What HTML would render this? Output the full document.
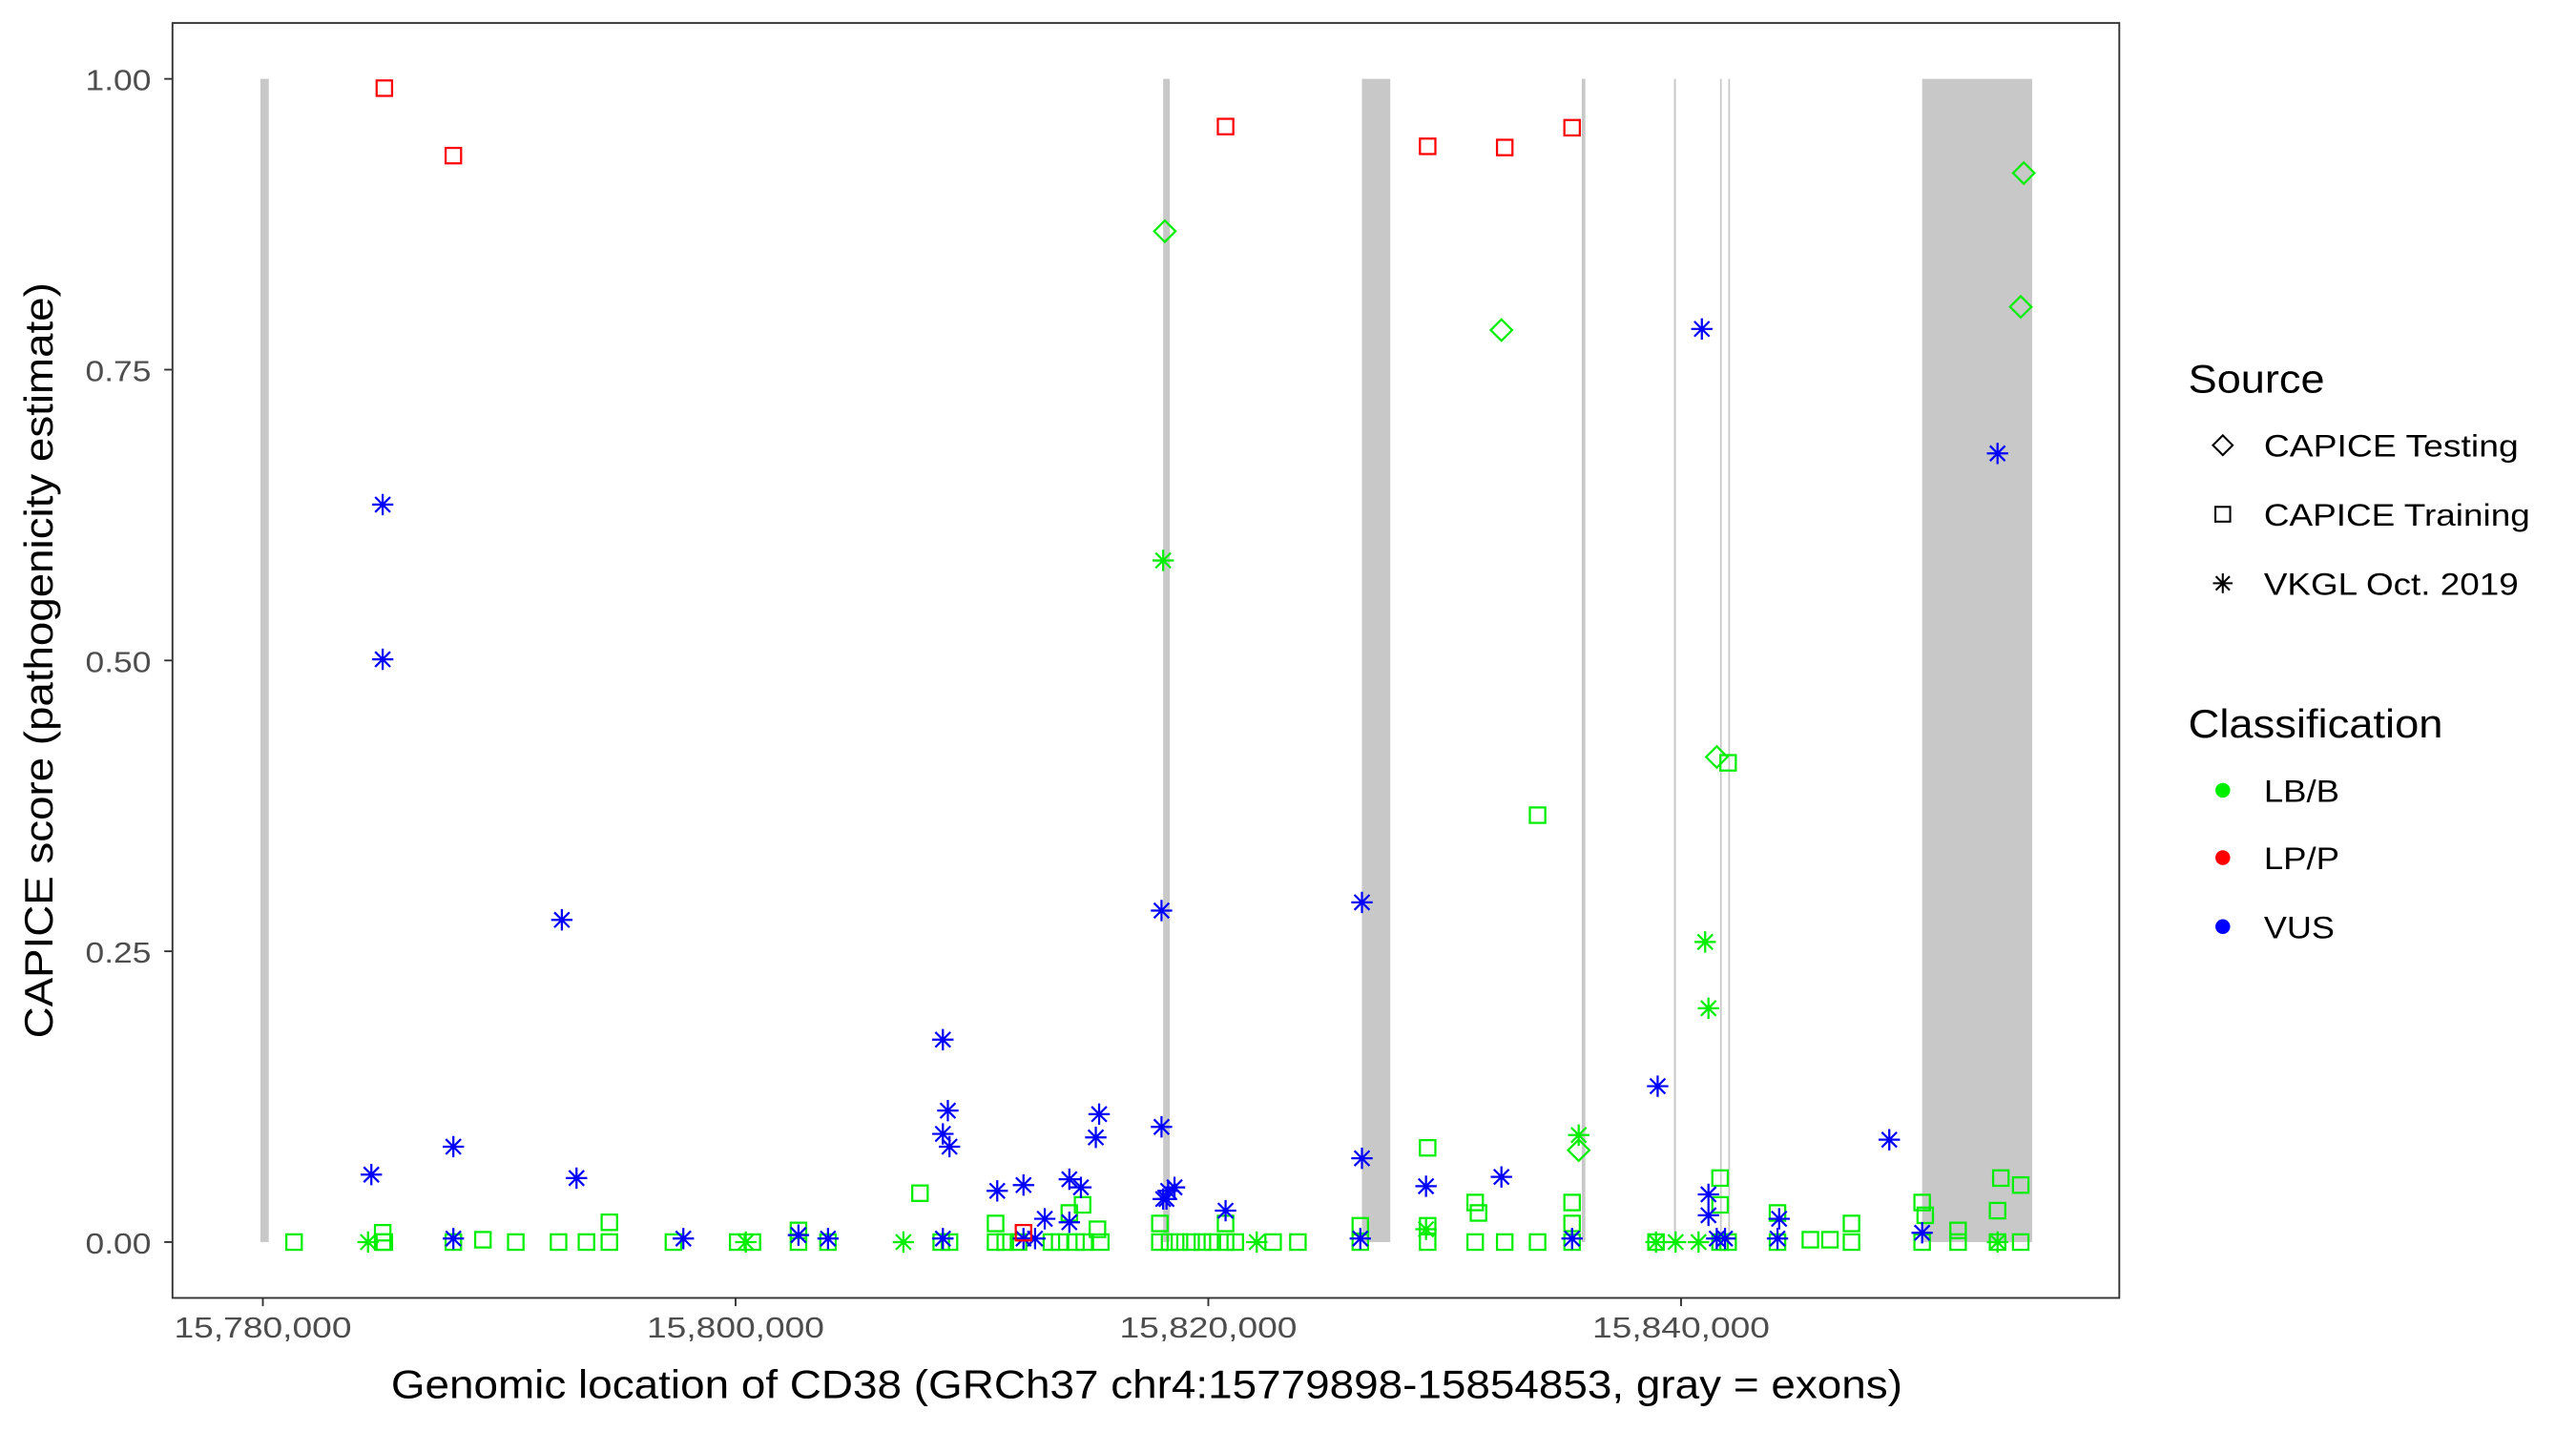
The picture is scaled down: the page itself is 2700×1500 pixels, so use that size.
<!DOCTYPE html>
<html><head><meta charset="utf-8"><style>
html,body{margin:0;padding:0;background:#fff}
svg{display:block}
text{font-family:"Liberation Sans",Arial,sans-serif}
</style></head><body>
<svg id="chart" xmlns="http://www.w3.org/2000/svg" width="2700" height="1500" viewBox="0 0 1568 871" preserveAspectRatio="none">
<rect x="0" y="0" width="1568" height="871" fill="#fff"/>
<g id="exons"></g>
<g id="points"></g>
<rect x="105" y="14" width="1185" height="776" fill="none" stroke="#333" stroke-width="1.1"/>
<g id="yaxis"></g>
<g id="xaxis"></g>
<text x="238" y="851" font-size="24" textLength="920" lengthAdjust="spacingAndGlyphs" fill="#000">Genomic location of CD38 (GRCh37 chr4:15779898-15854853, gray = exons)</text>
<text transform="translate(32,632) rotate(-90)" font-size="24" textLength="460" lengthAdjust="spacingAndGlyphs" fill="#000">CAPICE score (pathogenicity estimate)</text>
<g>
<text x="1332" y="239" font-size="24" textLength="83" lengthAdjust="spacingAndGlyphs">Source</text>
<g><path d="M1353,265 L1359,271 L1353,277 L1347,271 Z" fill="none" stroke="#000" stroke-width="1.2"/><text x="1378" y="278" font-size="19" textLength="155" lengthAdjust="spacingAndGlyphs">CAPICE Testing</text></g>
<g><rect x="1348.5" y="308.5" width="9" height="9" fill="none" stroke="#000" stroke-width="1.2"/><text x="1378" y="320" font-size="19" textLength="162" lengthAdjust="spacingAndGlyphs">CAPICE Training</text></g>
<g><path d="M1353,349 V361 M1347,355 H1359 M1348.8,350.8 L1357.2,359.2 M1357.2,350.8 L1348.8,359.2" stroke="#000" stroke-width="1.2"/><text x="1378" y="362" font-size="19" textLength="155" lengthAdjust="spacingAndGlyphs">VKGL Oct. 2019</text></g>
<text x="1332" y="449" font-size="24" textLength="155" lengthAdjust="spacingAndGlyphs">Classification</text>
<g><circle cx="1353" cy="481" r="4.5" fill="#00ee00"/><text x="1378" y="488" font-size="19" textLength="46" lengthAdjust="spacingAndGlyphs">LB/B</text></g>
<g><circle cx="1353" cy="522" r="4.5" fill="#ff0000"/><text x="1378" y="529" font-size="19" textLength="46" lengthAdjust="spacingAndGlyphs">LP/P</text></g>
<g><circle cx="1353" cy="564" r="4.5" fill="#0000ff"/><text x="1378" y="571" font-size="19" textLength="43" lengthAdjust="spacingAndGlyphs">VUS</text></g>
</g>
</svg>
<script>
const xTicks=[15780000,15800000,15820000,15840000];
const xTickLabels=["15,780,000","15,800,000","15,820,000","15,840,000"];
const yTicks=[0,0.25,0.5,0.75,1];
const yTickLabels=["0.00","0.25","0.50","0.75","1.00"];
const exonStarts=[15779898,15818090,15826500,15835800,15839700,15841650,15842000,15850200];
const exonEnds=[15780250,15818370,15827700,15835950,15839780,15841720,15842070,15854853];
// red LP/P training
const lppPos=[15785140,15788060,15820730,15829280,15832540,15835390,15812180];
const lppScore=[0.992,0.934,0.959,0.942,0.941,0.958,0.008];
// green testing diamonds
const testPos=[15818160,15832400,15854500,15854370,15841510,15835670];
const testScore=[0.869,0.784,0.919,0.804,0.417,0.079];
// VUS asterisks
const vusPos=[15785070,15785070,15792650,15784590,15788060,15793270,15808770,15808770,15808980,15809050,15818020,15826500,15840880,15853390,15839010,15848810,15818020,15818230,15815380,15815240,15814120,15814610,15811070,15812180,15813080,15820730,15826500,15829210,15832400,15841160,15841160,15844150,15850200,15797790,15802660,15803910,15788060,15808770,15812180,15812670,15814120,15818300,15818570,15818090,15826430,15835390,15841510,15841860,15844080];
const vusScore=[0.634,0.501,0.277,0.058,0.082,0.055,0.174,0.093,0.113,0.082,0.285,0.292,0.785,0.678,0.134,0.088,0.099,0.037,0.110,0.090,0.054,0.047,0.044,0.049,0.020,0.027,0.072,0.048,0.056,0.041,0.023,0.020,0.008,0.003,0.006,0.003,0.003,0.003,0.003,0.003,0.017,0.044,0.047,0.037,0.003,0.003,0.003,0.003,0.003];
// green VKGL asterisks
const vkglPos=[15818090,15841020,15841160,15835670,15784450,15800430,15807100,15822050,15829210,15838940,15839770,15840740,15853390];
const vkglScore=[0.586,0.258,0.201,0.092,0,0,0,0,0.011,0,0,0,0];
// green training squares
const trainPos=[15781320,15785070,15785140,15788060,15789310,15790700,15792510,15793690,15794660,15797370,15800090,15800710,15802660,15803910,15808700,15809050,15811000,15811410,15811970,15813360,15813710,15814400,15814750,15815450,15817950,15818360,15818780,15819270,15819750,15820170,15820730,15821140,15822740,15823790,15826430,15829280,15831290,15832540,15833930,15835390,15838940,15841650,15841990,15844080,15845470,15846300,15847210,15850200,15851720,15853390,15854370,
15785070,15794660,15807800,15811000,15814120,15814680,15815310,15817950,15820730,15826430,15829280,15831290,15831430,15833930,15835390,15835390,15841650,15841650,15841990,15844080,15847210,15850200,15850330,15851720,15853390,15853530,15854370,15829280,15802660];
const trainScore=[0,0,0,0,0.002,0,0,0,0,0,0,0,0,0,0,0,0,0,0,0,0,0,0,0,0,0,0,0,0,0,0,0,0,0,0,0,0,0,0,0,0,0,0,0,0.002,0.002,0,0,0,0,0,
0.008,0.017,0.042,0.016,0.025,0.032,0.011,0.016,0.016,0.014,0.081,0.034,0.025,0.367,0.034,0.016,0.055,0.032,0.412,0.025,0.016,0.034,0.023,0.010,0.027,0.055,0.049,0.014,0.010];

const NS="http://www.w3.org/2000/svg";
function xS(g){return 160+(g-15780000)*0.0143875;}
function yS(v){return 756-708*v;}
function mk(tag,attrs,parent){const e=document.createElementNS(NS,tag);for(const k in attrs)e.setAttribute(k,attrs[k]);parent.appendChild(e);return e;}
const GREEN="#00ee00",RED="#ff0000",BLUE="#0000ff";
const exG=document.getElementById('exons');
for(let i=0;i<exonStarts.length;i++){
  const r=mk('rect',{x:xS(exonStarts[i]),y:yS(1),width:Math.max(1,xS(exonEnds[i])-xS(exonStarts[i])),height:yS(0)-yS(1),fill:'#c8c8c8'},exG);
  
  
}
const yA=document.getElementById('yaxis');
yTicks.forEach((t,i)=>{
  const l=mk('line',{x1:100,x2:105,y1:yS(t),y2:yS(t),stroke:'#333','stroke-width':1.1},yA);
  
  
  const tx=mk('text',{x:92,y:yS(t)+7,'font-size':18,'text-anchor':'end',fill:'#4d4d4d',textLength:40,lengthAdjust:'spacingAndGlyphs'},yA);
  tx.textContent=yTickLabels[i];
  
  
});
const xA=document.getElementById('xaxis');
xTicks.forEach((t,i)=>{
  const l=mk('line',{x1:xS(t),x2:xS(t),y1:790,y2:795,stroke:'#333','stroke-width':1.1},xA);
  
  
  const tx=mk('text',{x:xS(t)-54,y:814,'font-size':18,fill:'#4d4d4d',textLength:108,lengthAdjust:'spacingAndGlyphs'},xA);
  tx.textContent=xTickLabels[i];
  
  
});
const P=document.getElementById('points');
function square(g,v,c){const s=mk('rect',{x:xS(g)-4.7,y:yS(v)-4.7,width:9.4,height:9.4,fill:'none',stroke:c,'stroke-width':1.3},P);
  
  }
function diamond(g,v,c){const x=xS(g),y=yS(v);const d=mk('path',{d:`M${x},${y-6.5}L${x+6.5},${y}L${x},${y+6.5}L${x-6.5},${y}Z`,fill:'none',stroke:c,'stroke-width':1.3},P);
  
  }
function star(g,v,c){const x=xS(g),y=yS(v),r=6.5,q=4.6;const d=mk('path',{d:`M${x},${y-r}V${y+r}M${x-r},${y}H${x+r}M${x-q},${y-q}L${x+q},${y+q}M${x+q},${y-q}L${x-q},${y+q}`,stroke:c,'stroke-width':1.3},P);
  
  }
trainPos.forEach((g,i)=>square(g,trainScore[i],GREEN));
vkglPos.forEach((g,i)=>star(g,vkglScore[i],GREEN));
testPos.forEach((g,i)=>diamond(g,testScore[i],GREEN));
vusPos.forEach((g,i)=>star(g,vusScore[i],BLUE));
lppPos.forEach((g,i)=>square(g,lppScore[i],RED));
</script>
</body></html>
